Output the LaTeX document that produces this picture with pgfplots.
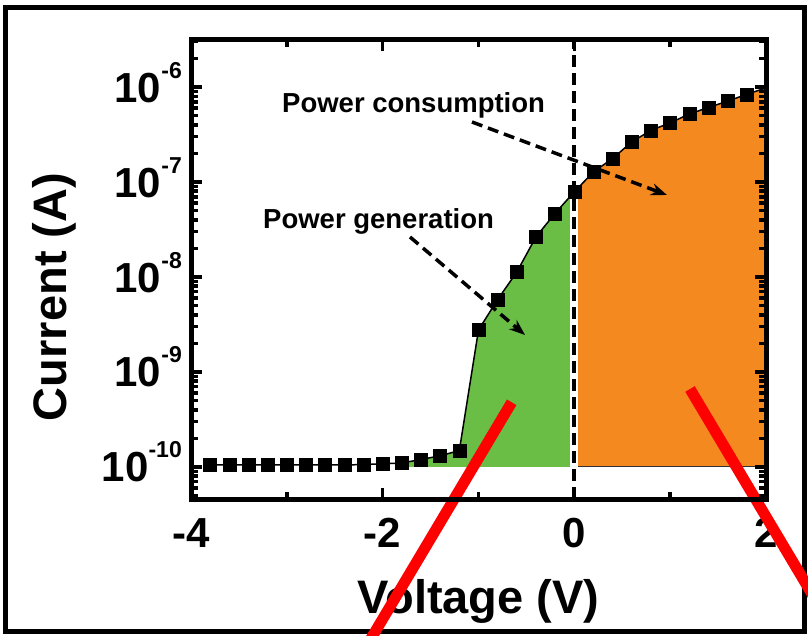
\documentclass[border=0pt]{standalone}
\usepackage{pgfplots}
\pgfplotsset{compat=1.18}
\usepackage{pgfplotstable}
\usepgfplotslibrary{fillbetween}
\usetikzlibrary{arrows.meta}
\usepackage{fontspec}
\setmainfont{Liberation Sans}

\definecolor{gengreen}{RGB}{106,189,69}
\definecolor{conorange}{RGB}{244,138,31}

% decade tick label: 10 with a raised exponent
\newcommand\dec[1]{10\raisebox{24pt}{\fontsize{23}{23}\selectfont #1}}

% I-V sweep of the device
\pgfplotstableread{
V     I
-3.8  1.05e-10
-3.6  1.05e-10
-3.4  1.05e-10
-3.2  1.05e-10
-3.0  1.05e-10
-2.8  1.05e-10
-2.6  1.05e-10
-2.4  1.05e-10
-2.2  1.06e-10
-2.0  1.08e-10
-1.8  1.10e-10
-1.6  1.20e-10
-1.4  1.31e-10
-1.2  1.49e-10
-1.0  2.77e-9
-0.8  5.8e-9
-0.6  1.13e-8
-0.4  2.65e-8
-0.2  4.69e-8
 0.0  7.9e-8
 0.2  1.28e-7
 0.4  1.77e-7
 0.6  2.65e-7
 0.8  3.5e-7
 1.0  4.2e-7
 1.2  5.2e-7
 1.4  6.1e-7
 1.6  7.1e-7
 1.8  8.4e-7
 2.0  9.8e-7
}\ivdata

\begin{document}
\begin{tikzpicture}
\begin{axis}[
  at={(191pt,136pt)}, anchor=south west,
  width=575pt, height=459pt, scale only axis,
  ymode=log,
  xmin=-4, xmax=2, ymin=4.6e-11, ymax=3.13e-6,
  axis on top,
  axis line style={line width=5pt},
  tick pos=both,
  tick align=inside,
  xtick={-4,-2,0,2}, xticklabels={-4,-2,0,2},
  minor xtick={-3,-1,1},
  ytick={1e-10,1e-9,1e-8,1e-7,1e-6},
  yticklabels={\dec{-10},\dec{-9},\dec{-8},\dec{-7},\dec{-6}},
  minor ytick={5e-11,6e-11,7e-11,8e-11,9e-11,
    2e-10,3e-10,4e-10,5e-10,6e-10,7e-10,8e-10,9e-10,
    2e-9,3e-9,4e-9,5e-9,6e-9,7e-9,8e-9,9e-9,
    2e-8,3e-8,4e-8,5e-8,6e-8,7e-8,8e-8,9e-8,
    2e-7,3e-7,4e-7,5e-7,6e-7,7e-7,8e-7,9e-7,
    2e-6,3e-6},
  major tick length=11pt, minor tick length=7pt,
  tick style={black, line width=3.5pt},
  xticklabel style={font=\fontsize{42}{42}\selectfont\bfseries, inner sep=0pt, anchor=base, yshift=-48pt},
  yticklabel style={font=\fontsize{42}{42}\selectfont\bfseries, inner sep=0pt, anchor=base east, xshift=-9pt, yshift=-15pt},
  xlabel={Voltage (V)},
  ylabel={Current (A)},
  xlabel style={font=\fontsize{47}{47}\selectfont\bfseries, inner sep=0pt, anchor=base, at={(axis description cs:0.5,-0.2484)}},
  ylabel style={font=\fontsize{47}{47}\selectfont\bfseries, inner sep=0pt, anchor=base, at={(axis description cs:-0.2157,0.44)}},
]
% curve segments and baselines bounding the shaded areas
\addplot[draw=none, name path=gencurve, restrict x to domain=-1.81:0.01, forget plot] table[x=V, y=I] {\ivdata};
\addplot[draw=none, name path=genbase, forget plot] coordinates {(-1.8,1e-10) (0,1e-10)};
\addplot[draw=none, name path=concurve, restrict x to domain=-0.01:2.01, forget plot] table[x=V, y=I] {\ivdata};
\addplot[draw=none, name path=conbase, forget plot] coordinates {(0,1e-10) (2,1e-10)};
% shaded regions under the curve
\addplot[gengreen, draw=none] fill between[of=gencurve and genbase];
\addplot[conorange, draw=none] fill between[of=concurve and conbase];
\addplot[black!80, line width=1pt] coordinates {(0,1e-10) (2,1e-10)};
% zero-bias line
\addplot[white, line width=8pt] coordinates {(0,4.6e-11) (0,3.13e-6)};
\addplot[black, line width=4pt, dash pattern=on 12pt off 6pt] coordinates {(0,4.6e-11) (0,3.13e-6)};
% measured curve with its points
\addplot[black, line width=1.5pt] table[x=V, y=I] {\ivdata};
\addplot[only marks, mark=square*, mark size=6.5pt, mark options={fill=black, draw=black},
  restrict x to domain=-4:1.9] table[x=V, y=I] {\ivdata};
\end{axis}

% annotations
\node[anchor=base west, inner sep=0pt, font=\fontsize{27.5}{27.5}\selectfont\bfseries] at (282pt,522pt) {Power consumption};
\node[anchor=base west, inner sep=0pt, font=\fontsize{27.5}{27.5}\selectfont\bfseries] at (263pt,406pt) {Power generation};
\draw[line width=3.5pt, dash pattern=on 11pt off 6pt, -{Stealth[length=16pt,width=12pt]}] (472pt,513pt) -- (667pt,440pt);
\draw[line width=3.5pt, dash pattern=on 11pt off 6pt, -{Stealth[length=16pt,width=12pt]}] (410pt,398pt) -- (525pt,300pt);

% outer frame
\draw[line width=5pt] (5pt,3.5pt) rectangle (804pt,627.5pt);

% red pointer lines
\begin{scope}
\clip (0pt,0pt) rectangle (808pt,635pt);
\draw[red, line width=11pt] (511.7pt,232.7pt) -- (366pt,-12pt);
\draw[red, line width=11pt] (690pt,246pt) -- (840pt,-6pt);
\end{scope}

\pgfresetboundingbox
\path[use as bounding box] (0pt,0pt) rectangle (808pt,635pt);
\end{tikzpicture}
\end{document}
